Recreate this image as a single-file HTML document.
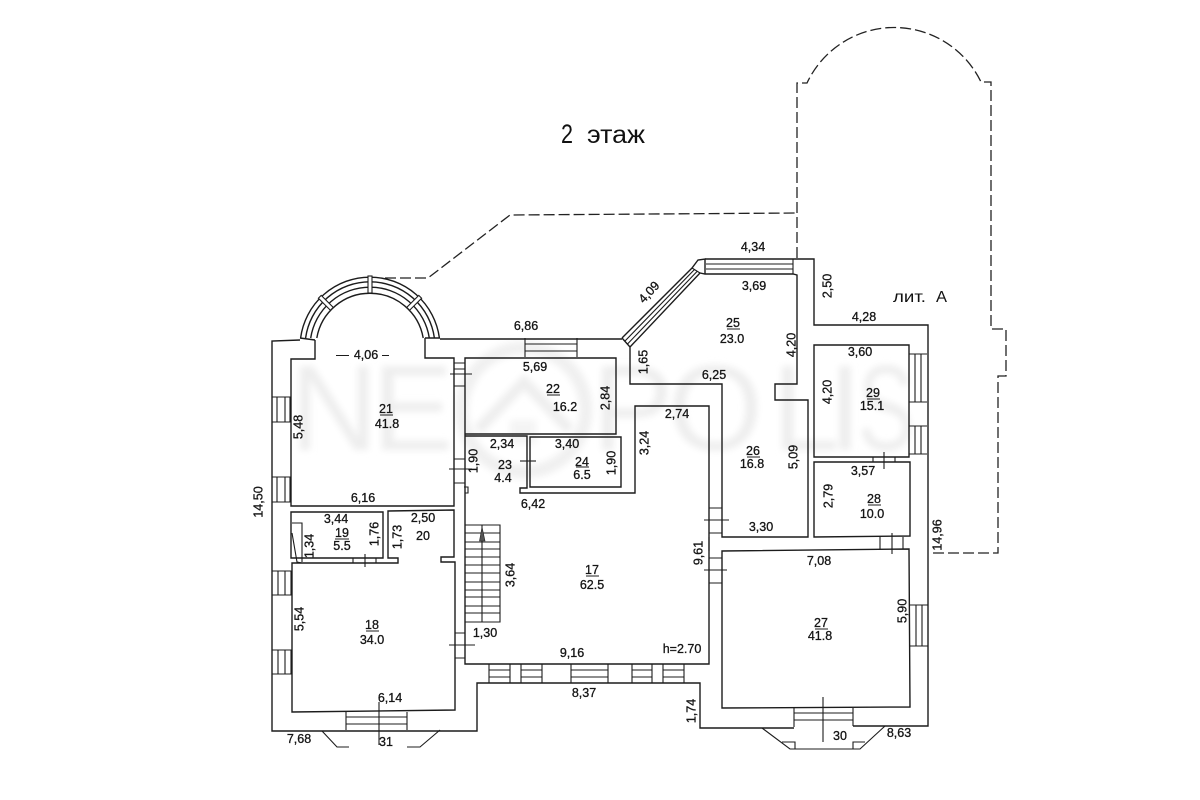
<!DOCTYPE html>
<html><head><meta charset="utf-8"><style>
html,body{margin:0;padding:0;background:#fff}
svg{display:block}
.l{fill:none;stroke:#1c1c1c;stroke-width:1.4}
.t{stroke-width:1.1}
.d{fill:none;stroke:#222;stroke-width:1.3;stroke-dasharray:11 4}
.w text{fill:#eeeeee;font-family:"Liberation Sans",sans-serif;font-size:122px}
text.a{font-family:"Liberation Sans",sans-serif;font-size:12.5px;fill:#151515;text-anchor:middle;stroke:#151515;stroke-width:.3}
</style></head><body>
<svg width="1200" height="800" viewBox="0 0 1200 800" xmlns="http://www.w3.org/2000/svg">
<defs><filter id="b" x="-10%" y="-10%" width="120%" height="120%"><feGaussianBlur stdDeviation="3.5"/></filter></defs>
<rect width="1200" height="800" fill="#fff"/>
<g class="w" filter="url(#b)">
<text x="290" y="450">N</text><text x="372" y="450">E</text>
<circle cx="524" cy="410" r="62" fill="none" stroke="#f0f0f0" stroke-width="13"/>
<path d="M478 430 L524 382 L570 430" fill="none" stroke="#eeeeee" stroke-width="11"/>
<rect x="510" y="420" width="26" height="24" fill="#f4f4f4"/>
<text x="592" y="450">P</text><text x="668" y="450">O</text><text x="772" y="450">L</text><text x="828" y="450">I</text><text x="858" y="450" textLength="56" lengthAdjust="spacingAndGlyphs">S</text>
</g>

<!-- dashed outlines -->
<path class="d" d="M385 278 H428 L510 215 L797 213"/>
<path class="d" d="M797 258 V83 H807 A96.3 96.3 0 0 1 981 82 H991 V329 H1006 V376 H998 V553 H933"/>

<!-- outer walls -->
<path class="l" d="M300 340 L272 341 V731 H477 V683 H700 V728 H794 M853 726 H928 V325 H814 V259 H705"/>
<path class="l" d="M440 339 H622 M315 340 V359 H291 V506 H454 V358 H425 V338"/>
<!-- arch -->
<g class="l">
<path d="M300.6 338 A70 70 0 0 1 439.4 338"/>
<path d="M305.6 338 A65 65 0 0 1 434.4 338"/>
<path d="M310.7 338 A60 60 0 0 1 429.3 338"/>
<path d="M316.8 338 A54 54 0 0 1 423.2 338"/>
</g>
<g class="l t">
<rect x="-2" y="-71" width="4" height="17" transform="translate(370 347)" style="fill:#fff"/>
<rect x="-2" y="-71" width="4" height="17" transform="translate(370 347) rotate(-45)" style="fill:#fff"/>
<rect x="-2" y="-71" width="4" height="17" transform="translate(370 347) rotate(45)" style="fill:#fff"/>
</g>
<path class="l" d="M300 338 L315 340 M440 338 L425 338"/>

<!-- room 22 / 23 / 24 -->
<path class="l" d="M465 358 H616 V434 H465 Z M465 434 V664 H709 V406 H635 V493 H520 V488 H527 V436 H465"/>
<path class="l" d="M530 437 H621 V487 H530 Z"/>
<!-- 25 / 26 -->
<path class="l" d="M622 338 L630 347 V384 H722 V537 H808 V400 H775 V384 H797 V275 L793 274 H705 L700 273 L630 347"/>
<path class="l" d="M622 338 L692 268 L698 260 L705 259 V274"/>
<path class="l t" d="M625 341 L694.5 269.5 M627.5 344 L697 271.5 M692 268 L700 273 M706 264 H793 M706 269 H793 M793 259 V274 M793 259 H814"/>
<!-- 29 / 28 / 27 -->
<path class="l" d="M814 345 H909 V457 H814 Z M814 462 H910 V536 L814 537 Z M722 551 L909 549 L910 707 L722 708 Z"/>
<!-- 18,19,20 -->
<path class="l" d="M291 512 H383 V558 H291 Z M388 511 L454 510 V557 H441 V562 H455 V710 L292 712 V563 H398 V558 H388 Z M292 563 H353"/>
<path class="l t" d="M292 523 H302 V562 M292 533 L297 562 L302 563"/>

<!-- left windows -->
<g class="l t">
<path d="M272 397 H290 V422 H272 M277 397 V422 M285 397 V422"/>
<path d="M272 477 H290 V502 H272 M277 477 V502 M285 477 V502"/>
<path d="M272 571 H291 V595 H272 M278 571 V595 M285 571 V595"/>
<path d="M272 650 H291 V674 H272 M278 650 V674 M285 650 V674"/>
<!-- bottom 18 window -->
<path d="M346 712 V730 M407 712 V730 M346 717 H407 M346 724 H407"/>
<path d="M379 702 V745"/>
<!-- porch left -->
<path d="M322 731 L337 747 H349 M440 730 L420 747 H407"/>
<!-- doors west -->
<path d="M454 363 H465 M454 369 H465 M454 386 H465 M450 374 H472"/>
<path d="M454 459 H465 M454 483 H465 M449 469 H472 M464 487 H468 V493 H465"/>
<path d="M455 633 H465 M455 658 H465 M449 645 H475"/>
<!-- door 19 -->
<path d="M353 558 V563 M376 558 V563 M365 554 V567 M376 563 H398"/>
<!-- door 23/24 -->
<path d="M520 461 H536"/>
<!-- south windows -->
<path d="M489 664 V683 M510 664 V683 M489 670 H510 M489 677 H510"/>
<path d="M521 664 V683 M542 664 V683 M521 670 H542 M521 677 H542"/>
<path d="M571 664 V683 M608 664 V683 M571 670 H608 M571 677 H608"/>
<path d="M632 664 V683 M652 664 V683 M632 670 H652 M632 677 H652"/>
<path d="M663 664 V683 M684 664 V683 M663 670 H684 M663 677 H684"/>
<!-- top window of 22 -->
<path d="M525 338 V357 M577 338 V357 M525 344 H577 M525 351 H577"/>
<!-- 26 / 17 doors -->
<path d="M709 508 H722 M709 533 H722 M704 520 H729"/>
<path d="M709 537 V551 M709 558 H722 M709 583 H722 M704 570 H727"/>
<!-- 29 windows -->
<path d="M909 354 H927 M909 402 H927 M915 354 V402 M921 354 V402 M909 426 H927 M909 454 H927 M915 426 V454 M921 426 V454"/>
<!-- door 29/28 -->
<path d="M873 457 V462 M895 457 V462 M884 452 V469"/>
<!-- door 28/27 -->
<path d="M880 537 V549 M903 537 V549 M892 533 V554"/>
<!-- 27 right window -->
<path d="M910 605 H928 M910 646 H928 M916 605 V646 M922 605 V646"/>
<!-- 27 bottom window -->
<path d="M794 708 V727 M853 708 V726 M794 713 H853 M794 720 H853 M823 697 V742"/>
<!-- bay -->
<path d="M762 728 L790 749 H860 L885 726 M782 742 H795 V749 M853 749 V742 H865"/>
<!-- stairs -->
<path d="M465 525 H500 V622 H465 M482 525 V622 M465 533 H500 M465 542 H500 M465 549 H500 M465 557 H500 M465 565 H500 M465 573 H500 M465 582 H500 M465 590 H500 M465 597 H500 M465 606 H500 M465 613 H500"/>
<!-- 4,06 dashes -->
<path d="M336 355.5 H349 M382 355.5 H389"/>
<!-- underlines -->
<path d="M380 415 H393 M335 539 H349 M366 631 H379 M547 395 H560 M576 467 H589 M727 329 H740 M867 399 H880 M747 457 H760 M868 505 H881 M815 629 H828 M586 576 H599"/>
</g>
<path d="M482 527 L479.5 541 H485 Z" fill="#555" stroke="#222" stroke-width=".6"/>

<!-- labels -->
<text x="561" y="143" font-family="'Liberation Sans',sans-serif" font-size="27" fill="#111" textLength="12" lengthAdjust="spacingAndGlyphs">2</text>
<text x="587" y="143" font-family="'Liberation Sans',sans-serif" font-size="25" fill="#111" textLength="58" lengthAdjust="spacingAndGlyphs">этаж</text>
<text x="893" y="302" font-family="'Liberation Sans',sans-serif" font-size="16" fill="#111" textLength="33" lengthAdjust="spacingAndGlyphs">лит.</text>
<text x="936" y="302" font-family="'Liberation Sans',sans-serif" font-size="16" fill="#111" textLength="11" lengthAdjust="spacingAndGlyphs">A</text>

<text class="a" x="526" y="330">6,86</text><text class="a" x="366" y="359">4,06</text>
<text class="a" x="386" y="413">21</text><text class="a" x="387" y="428">41.8</text>
<text class="a" x="363" y="502">6,16</text><text class="a" x="502" y="448">2,34</text>
<text class="a" x="535" y="371">5,69</text><text class="a" x="505" y="469">23</text>
<text class="a" x="503" y="482">4.4</text><text class="a" x="533" y="508">6,42</text>
<text class="a" x="336" y="523">3,44</text><text class="a" x="342" y="537">19</text>
<text class="a" x="342" y="550">5.5</text><text class="a" x="423" y="522">2,50</text>
<text class="a" x="423" y="540">20</text><text class="a" x="372" y="629">18</text>
<text class="a" x="372" y="644">34.0</text><text class="a" x="485" y="637">1,30</text>
<text class="a" x="390" y="702">6,14</text><text class="a" x="299" y="743">7,68</text>
<text class="a" x="386" y="746">31</text><text class="a" x="553" y="393">22</text>
<text class="a" x="565" y="411">16.2</text><text class="a" x="714" y="379">6,25</text>
<text class="a" x="677" y="418">2,74</text><text class="a" x="567" y="448">3,40</text>
<text class="a" x="582" y="466">24</text><text class="a" x="582" y="479">6.5</text>
<text class="a" x="753" y="251">4,34</text><text class="a" x="754" y="290">3,69</text>
<text class="a" x="864" y="321">4,28</text><text class="a" x="733" y="327">25</text>
<text class="a" x="732" y="343">23.0</text><text class="a" x="860" y="356">3,60</text>
<text class="a" x="873" y="397">29</text><text class="a" x="872" y="410">15.1</text>
<text class="a" x="753" y="455">26</text><text class="a" x="752" y="468">16.8</text>
<text class="a" x="863" y="475">3,57</text><text class="a" x="874" y="503">28</text>
<text class="a" x="872" y="518">10.0</text><text class="a" x="761" y="531">3,30</text>
<text class="a" x="819" y="565">7,08</text><text class="a" x="821" y="627">27</text>
<text class="a" x="820" y="640">41.8</text><text class="a" x="840" y="740">30</text>
<text class="a" x="899" y="737">8,63</text><text class="a" x="592" y="574">17</text>
<text class="a" x="592" y="589">62.5</text><text class="a" x="572" y="657">9,16</text>
<text class="a" x="682" y="653">h=2.70</text><text class="a" x="584" y="697">8,37</text>

<text class="a" transform="translate(302.5 427) rotate(-90)">5,48</text>
<text class="a" transform="translate(262.5 502) rotate(-90)">14,50</text>
<text class="a" transform="translate(477.5 461) rotate(-90)">1,90</text>
<text class="a" transform="translate(378.5 534) rotate(-90)">1,76</text>
<text class="a" transform="translate(401.5 537) rotate(-90)">1,73</text>
<text class="a" transform="translate(313.5 546) rotate(-90)">1,34</text>
<text class="a" transform="translate(514.5 575) rotate(-90)">3,64</text>
<text class="a" transform="translate(303.5 619) rotate(-90)">5,54</text>
<text class="a" transform="translate(652 295) rotate(-47)">4,09</text>
<text class="a" transform="translate(609.5 398) rotate(-90)">2,84</text>
<text class="a" transform="translate(647.5 362) rotate(-90)">1,65</text>
<text class="a" transform="translate(648.5 443) rotate(-90)">3,24</text>
<text class="a" transform="translate(615.5 463) rotate(-90)">1,90</text>
<text class="a" transform="translate(831.5 286) rotate(-90)">2,50</text>
<text class="a" transform="translate(795.5 345) rotate(-90)">4,20</text>
<text class="a" transform="translate(831.5 392) rotate(-90)">4,20</text>
<text class="a" transform="translate(797.5 457) rotate(-90)">5,09</text>
<text class="a" transform="translate(832.5 496) rotate(-90)">2,79</text>
<text class="a" transform="translate(941.5 535) rotate(-90)">14,96</text>
<text class="a" transform="translate(702.5 553) rotate(-90)">9,61</text>
<text class="a" transform="translate(906.5 611) rotate(-90)">5,90</text>
<text class="a" transform="translate(695.5 711) rotate(-90)">1,74</text>
</svg>
</body></html>
